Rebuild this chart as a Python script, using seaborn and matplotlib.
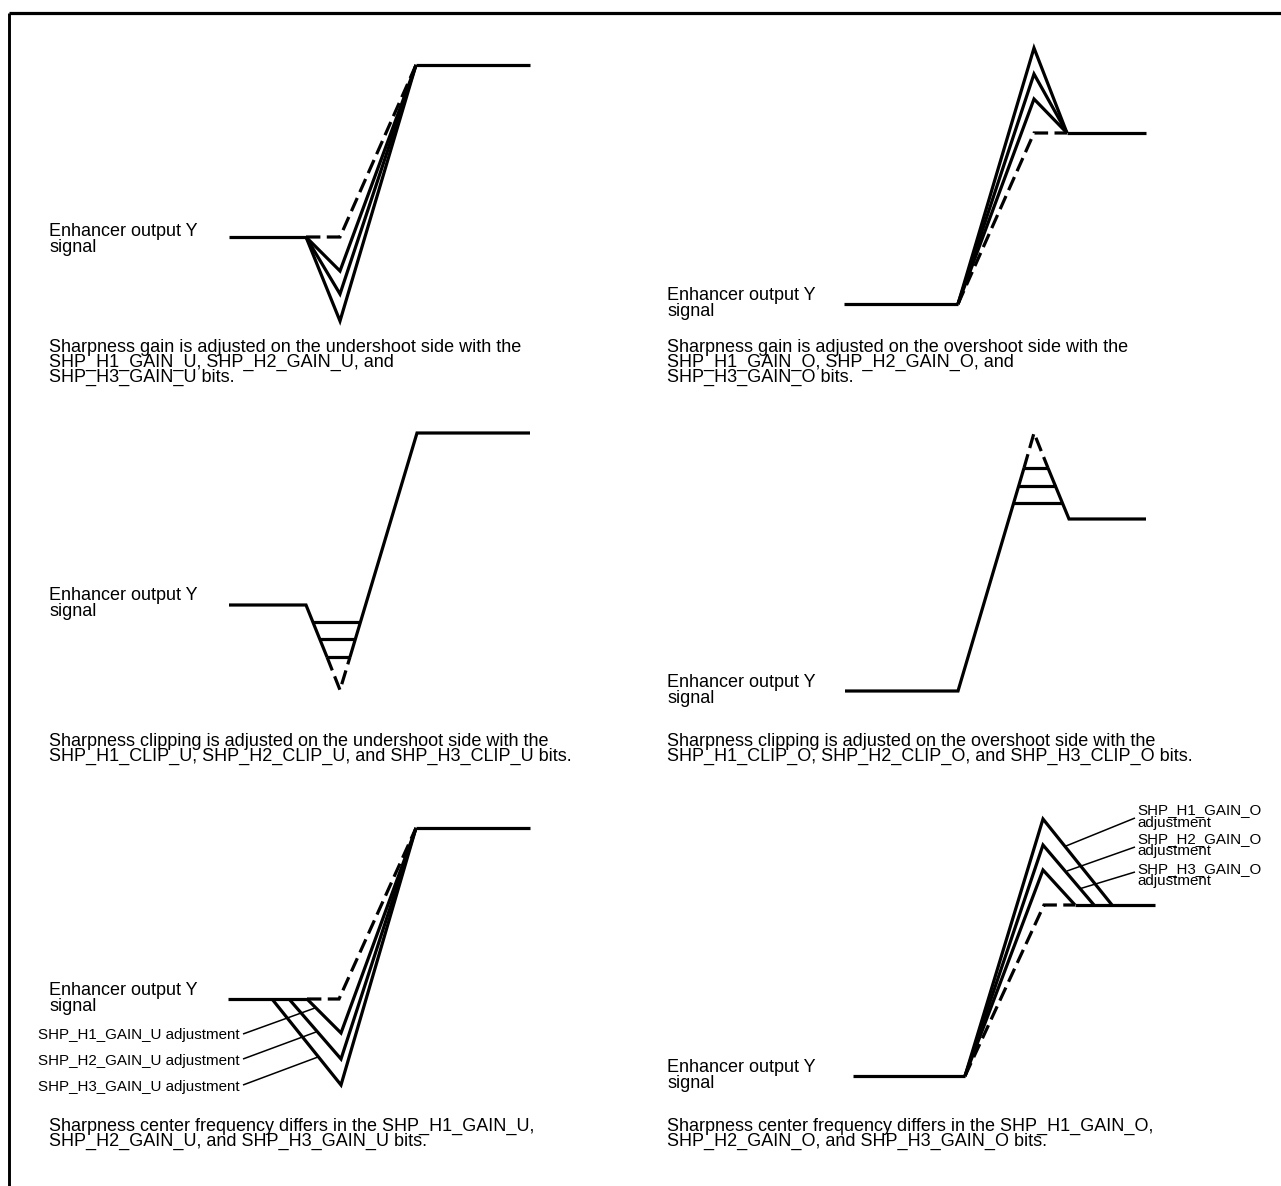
import matplotlib
matplotlib.use("Agg")
import matplotlib.pyplot as plt
import seaborn as sns

sns.set_style("white")
plt.rcParams["font.family"] = ["Liberation Sans", "DejaVu Sans"]
plt.rcParams["text.color"] = "black"

W, H = 1281, 1186
LW = 2.3          # main waveform lines
LW_LEAD = 1.1     # leader lines
DASH = (0, (4.5, 2.0))
FS_MAIN = 13.0
FS_SMALL = 10.9

# ---- panel 1: gain, undershoot side --------------------------------------
p1_base_x, p1_base_y = [229, 306], [237, 237]
p1_top_x, p1_top_y = [416, 530], [65, 65]
p1_dash_x, p1_dash_y = [306, 340, 416], [237, 237, 65]
p1_v_bottom = [271, 294, 321]          # three undershoot depths at x=340

# ---- panel 2: gain, overshoot side ---------------------------------------
p2_base_x, p2_base_y = [844, 958], [304, 304]
p2_top_x, p2_top_y = [1067, 1146], [133, 133]
p2_dash_x, p2_dash_y = [958, 1034, 1067], [304, 133, 133]
p2_peaks = [48, 74, 99]                # three overshoot heights at x=1034

# ---- panel 3: clipping, undershoot side ----------------------------------
p3_solid_a_x, p3_solid_a_y = [229, 306, 327], [605, 605, 657]
p3_dash_x, p3_dash_y = [327, 340, 350], [657, 690, 657]
p3_solid_b_x, p3_solid_b_y = [350, 417, 530], [657, 433, 433]
p3_clip_y = [622, 639, 657]
p3_clip_xl = [313, 320, 327]
p3_clip_xr = [360, 355, 350]

# ---- panel 4: clipping, overshoot side -----------------------------------
p4_solid_a_x, p4_solid_a_y = [845, 958, 1024], [691, 691, 468]
p4_dash_x, p4_dash_y = [1024, 1034, 1048], [468, 433, 468]
p4_solid_b_x, p4_solid_b_y = [1048, 1069, 1146], [468, 519, 519]
p4_clip_y = [468, 486, 503]
p4_clip_xl = [1024, 1018, 1013]
p4_clip_xr = [1048, 1056, 1062]

# ---- panel 5: centre frequency, undershoot -------------------------------
p5_base_x, p5_base_y = [228, 307], [999, 999]
p5_top_x, p5_top_y = [416, 530], [828, 828]
p5_dash_x, p5_dash_y = [307, 339, 416], [999, 999, 828]
p5_v_start = [307, 289, 272]
p5_v_bottom = [1033, 1059, 1085]       # at x=341
p5_lead_x0 = [243, 243, 243]
p5_lead_y0 = [1034, 1059, 1085]
p5_lead_x1 = [315, 316, 318]
p5_lead_y1 = [1008, 1032, 1057]
p5_labels = ["SHP_H1_GAIN_U adjustment", "SHP_H2_GAIN_U adjustment",
             "SHP_H3_GAIN_U adjustment"]

# ---- panel 6: centre frequency, overshoot --------------------------------
p6_base_x, p6_base_y = [853, 965], [1076, 1076]
p6_top_x, p6_top_y = [1075, 1155], [905, 905]
p6_dash_x, p6_dash_y = [965, 1044, 1075], [1076, 905, 905]
p6_peaks = [819, 845, 870]             # at x=1043
p6_land = [1112, 1094, 1075]           # landing x on y=905
p6_lead_x0 = [1135, 1135, 1135]
p6_lead_y0 = [818, 847, 872]
p6_lead_x1 = [1066, 1067, 1079]
p6_lead_y1 = [846, 871, 889]
p6_labels = ["SHP_H1_GAIN_O", "SHP_H2_GAIN_O", "SHP_H3_GAIN_O"]

SIGNAL_LINES = ["Enhancer output Y", "signal"]
CAPTIONS = [
    ["Sharpness gain is adjusted on the undershoot side with the",
     "SHP_H1_GAIN_U, SHP_H2_GAIN_U, and",
     "SHP_H3_GAIN_U bits."],
    ["Sharpness gain is adjusted on the overshoot side with the",
     "SHP_H1_GAIN_O, SHP_H2_GAIN_O, and",
     "SHP_H3_GAIN_O bits."],
    ["Sharpness clipping is adjusted on the undershoot side with the",
     "SHP_H1_CLIP_U, SHP_H2_CLIP_U, and SHP_H3_CLIP_U bits."],
    ["Sharpness clipping is adjusted on the overshoot side with the",
     "SHP_H1_CLIP_O, SHP_H2_CLIP_O, and SHP_H3_CLIP_O bits."],
    ["Sharpness center frequency differs in the SHP_H1_GAIN_U,",
     "SHP_H2_GAIN_U, and SHP_H3_GAIN_U bits."],
    ["Sharpness center frequency differs in the SHP_H1_GAIN_O,",
     "SHP_H2_GAIN_O, and SHP_H3_GAIN_O bits."],
]

# layout: text anchors (left x, first baseline y)
SIGNAL_POS = [(49, 236), (667, 300), (49, 600), (667, 687), (49, 995), (667, 1072)]
CAPTION_POS = [(49, 352), (667, 352), (49, 746), (667, 746), (49, 1131), (667, 1131)]
SIGNAL_STEP = 16
CAPTION_STEP = 15

fig = plt.figure(figsize=(W / 100, H / 100), dpi=100)
ax = fig.add_axes([0, 0, 1, 1])
ax.set_xlim(0, W)
ax.set_ylim(H, 0)
ax.axis("off")


def seg(xs, ys, ls="-", lw=LW):
    sns.lineplot(x=xs, y=ys, sort=False, estimator=None, ax=ax,
                 color="black", lw=lw, linestyle=ls,
                 solid_joinstyle="miter", solid_capstyle="butt",
                 dash_capstyle="butt", dash_joinstyle="miter")


# outer frame (top and left edges)
seg([8.5, W], [13, 13], lw=2.3)
seg([8.5, 8.5], [13, H], lw=2.1)

# panel 1
seg(p1_base_x, p1_base_y)
seg(p1_top_x, p1_top_y)
seg(p1_dash_x, p1_dash_y, ls=DASH)
for yb in p1_v_bottom:
    seg([p1_base_x[1], 340, p1_top_x[0]], [p1_base_y[1], yb, p1_top_y[0]])

# panel 2
seg(p2_base_x, p2_base_y)
seg(p2_top_x, p2_top_y)
seg(p2_dash_x, p2_dash_y, ls=DASH)
for yp in p2_peaks:
    seg([p2_base_x[1], 1034, p2_top_x[0]], [p2_base_y[1], yp, p2_top_y[0]])

# panel 3
seg(p3_solid_a_x, p3_solid_a_y)
seg(p3_dash_x, p3_dash_y, ls=DASH)
seg(p3_solid_b_x, p3_solid_b_y)
for yc, xl, xr in zip(p3_clip_y, p3_clip_xl, p3_clip_xr):
    seg([xl, xr], [yc, yc])

# panel 4
seg(p4_solid_a_x, p4_solid_a_y)
seg(p4_dash_x, p4_dash_y, ls=DASH)
seg(p4_solid_b_x, p4_solid_b_y)
for yc, xl, xr in zip(p4_clip_y, p4_clip_xl, p4_clip_xr):
    seg([xl, xr], [yc, yc])

# panel 5
seg(p5_base_x, p5_base_y)
seg(p5_top_x, p5_top_y)
seg(p5_dash_x, p5_dash_y, ls=DASH)
for xs, yb in zip(p5_v_start, p5_v_bottom):
    seg([xs, 341, p5_top_x[0]], [p5_base_y[0], yb, p5_top_y[0]])
for x0, y0, x1, y1 in zip(p5_lead_x0, p5_lead_y0, p5_lead_x1, p5_lead_y1):
    seg([x0, x1], [y0, y1], lw=LW_LEAD)
for lbl, y0 in zip(p5_labels, p5_lead_y0):
    ax.text(38, y0 + 5.5, lbl, fontsize=FS_SMALL, va="baseline", ha="left",
            color="black")

# panel 6
seg(p6_base_x, p6_base_y)
seg(p6_top_x, p6_top_y)
seg(p6_dash_x, p6_dash_y, ls=DASH)
for yp, xl in zip(p6_peaks, p6_land):
    seg([p6_base_x[1], 1043, xl], [p6_base_y[1], yp, p6_top_y[0]])
for x0, y0, x1, y1 in zip(p6_lead_x0, p6_lead_y0, p6_lead_x1, p6_lead_y1):
    seg([x0, x1], [y0, y1], lw=LW_LEAD)
for lbl, y0 in zip(p6_labels, [814, 843, 873]):
    ax.text(1137, y0, lbl, fontsize=FS_SMALL, va="baseline", ha="left",
            color="black")
    ax.text(1137, y0 + 12.5, "adjustment", fontsize=FS_SMALL,
            va="baseline", ha="left", color="black")

# texts
for (x, y) in SIGNAL_POS:
    for i, line in enumerate(SIGNAL_LINES):
        ax.text(x, y + i * SIGNAL_STEP, line, fontsize=FS_MAIN,
                va="baseline", ha="left", color="black")
for (x, y), cap in zip(CAPTION_POS, CAPTIONS):
    for i, line in enumerate(cap):
        ax.text(x, y + i * CAPTION_STEP, line, fontsize=FS_MAIN,
                va="baseline", ha="left", color="black")

fig.savefig("out.png", dpi=100, facecolor="white")
